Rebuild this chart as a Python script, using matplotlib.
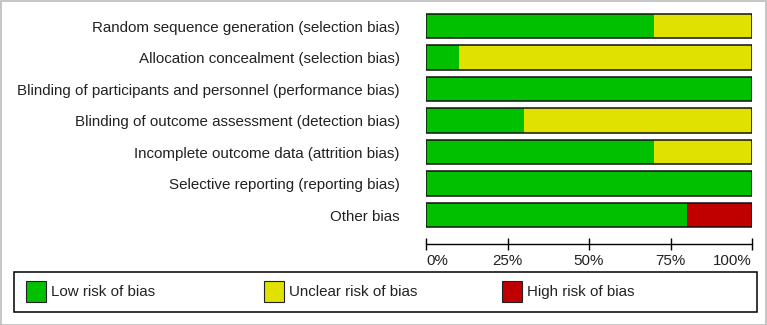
import matplotlib.pyplot as plt
from matplotlib.patches import Rectangle

plt.rcParams["font.family"] = ["Liberation Sans", "DejaVu Sans"]

# risk of bias domains, top to bottom
domains = [
    "Random sequence generation (selection bias)",
    "Allocation concealment (selection bias)",
    "Blinding of participants and personnel (performance bias)",
    "Blinding of outcome assessment (detection bias)",
    "Incomplete outcome data (attrition bias)",
    "Selective reporting (reporting bias)",
    "Other bias",
]
# percentages of studies per judgement
low_risk = [70, 10, 100, 30, 70, 100, 80]
unclear_risk = [30, 90, 0, 70, 30, 0, 0]
high_risk = [0, 0, 0, 0, 0, 0, 20]

legend_labels = ["Low risk of bias", "Unclear risk of bias", "High risk of bias"]
tick_vals = [0, 25, 50, 75, 100]
tick_labels = ["0%", "25%", "50%", "75%", "100%"]

colors = ["#00C000", "#E1E100", "#C00000"]
fs = 10.9

W, H = 767, 325
fig = plt.figure(figsize=(W / 100, H / 100), dpi=100)
ax = fig.add_axes([426 / W, (H - 244) / H, 326 / W, 234 / H])

y = list(range(1, len(domains) + 1))
left = [0] * len(domains)
for vals, c in zip([low_risk, unclear_risk, high_risk], colors):
    ax.barh(y, vals, left=left, height=0.77, color=c, edgecolor="none")
    left = [l + v for l, v in zip(left, vals)]
# outline around every bar
ax.barh(y, [100] * len(y), height=0.77, fill=False, edgecolor="#111111", linewidth=1.1)

ax.set_xlim(0, 100)
ax.set_ylim(7.92, 0.49)
ax.set_yticks(y)
ax.set_yticklabels(domains, fontsize=fs, color="#222222")
ax.tick_params(axis="y", length=0, pad=19)
ax.set_xticks(tick_vals)
ax.set_xticklabels(tick_labels, fontsize=fs, color="#222222")
ax.tick_params(axis="x", direction="inout", length=9, width=1, pad=3)
xt = ax.get_xticklabels()
xt[0].set_horizontalalignment("left")
xt[-1].set_horizontalalignment("right")
for s in ["top", "left", "right"]:
    ax.spines[s].set_visible(False)
ax.spines["bottom"].set_linewidth(1)

# legend box, drawn by hand
fig.patches.append(Rectangle((14 / W, (H - 312) / H), 743 / W, 40 / H,
                             transform=fig.transFigure, fill=False,
                             edgecolor="black", linewidth=1.1))
for i, (lab, c) in enumerate(zip(legend_labels, colors)):
    x0 = 26 + i * 238
    fig.patches.append(Rectangle((x0 / W, (H - 302) / H), 20 / W, 21 / H,
                                 transform=fig.transFigure, facecolor=c,
                                 edgecolor="#222222", linewidth=0.8))
    fig.text((x0 + 25) / W, (H - 292) / H, lab, fontsize=fs,
             color="#222222", va="center", ha="left")

# light grey frame around the whole figure
fig.patches.append(Rectangle((0.5 / W, 0.5 / H), (W - 1.5) / W, (H - 1.5) / H,
                             transform=fig.transFigure, fill=False,
                             edgecolor="#BBBBBB", linewidth=1.2))

fig.savefig("out.png", dpi=100)
